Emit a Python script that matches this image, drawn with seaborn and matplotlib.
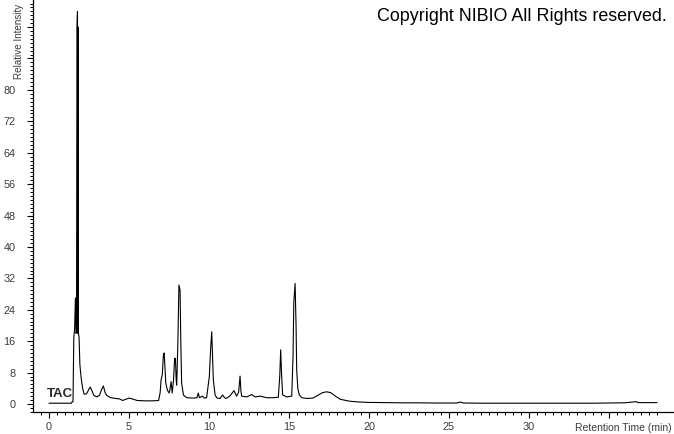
import matplotlib
matplotlib.use("Agg")
import matplotlib.pyplot as plt
from matplotlib.ticker import MultipleLocator, FixedLocator, FixedFormatter
import seaborn as sns
import pandas as pd
import numpy as np

# Retention time (min) and relative intensity
time = [0.0, 1.40, 1.45, 1.50, 1.55, 1.60, 1.65, 1.69, 1.72, 1.75, 1.78, 1.80,
        1.82, 1.84, 1.88, 1.93, 2.00, 2.10, 2.20, 2.35, 2.50, 2.58, 2.67, 2.80,
        2.98, 3.15, 3.30, 3.40, 3.50, 3.60, 3.80, 4.00, 4.40, 4.60, 4.80, 5.00,
        5.20, 5.50, 6.00, 6.50, 6.85, 6.95, 7.00, 7.08, 7.15, 7.20, 7.25, 7.30,
        7.40, 7.50, 7.55, 7.63, 7.70, 7.78, 7.85, 7.90, 7.95, 7.98, 8.05, 8.12,
        8.19, 8.24, 8.29, 8.40, 8.60, 9.00, 9.25, 9.33, 9.40, 9.50, 9.60, 9.70,
        9.85, 10.02, 10.10, 10.17, 10.22, 10.27, 10.38, 10.50, 10.69, 10.85,
        10.95, 11.06, 11.30, 11.45, 11.56, 11.65, 11.73, 11.85, 11.94, 11.99,
        12.04, 12.35, 12.67, 12.88, 13.19, 13.60, 14.00, 14.33, 14.42, 14.48,
        14.53, 14.60, 14.86, 15.17, 15.25, 15.30, 15.38, 15.44, 15.48, 15.55,
        15.64, 15.80, 16.10, 16.50, 16.80, 17.10, 17.35, 17.60, 17.90, 18.20,
        18.80, 19.40, 20.0, 21.0, 22.0, 23.0, 24.0, 25.5, 25.7, 25.9, 27.0,
        28.0, 30.0, 32.0, 34.0, 36.0, 36.7, 36.8, 38.0]
intensity = [0.2, 0.2, 0.6, 0.6, 17.0, 19.0, 27.0, 18.0, 18.5, 96.0, 100.0, 18.0,
             96.0, 18.0, 17.0, 10.0, 7.0, 4.0, 2.5, 2.6, 3.8, 4.3, 3.5, 2.2,
             1.8, 2.2, 3.8, 4.6, 3.0, 2.2, 1.7, 1.5, 1.3, 0.9, 1.2, 1.5,
             1.3, 0.9, 0.8, 0.8, 0.9, 3.0, 6.0, 7.5, 12.5, 13.0, 9.0, 5.3,
             3.5, 2.8, 3.5, 5.7, 2.8, 6.0, 11.7, 11.5, 6.0, 4.8, 15.0, 30.3,
             29.0, 15.0, 5.3, 2.3, 1.6, 1.5, 1.6, 2.8, 1.6, 1.8, 2.0, 1.5,
             1.6, 7.0, 14.0, 18.4, 12.0, 6.1, 2.3, 1.5, 1.4, 2.3,
             1.7, 1.4, 2.0, 2.8, 3.4, 2.6, 2.0, 3.0, 7.1, 3.5,
             2.0, 1.8, 2.4, 1.8, 2.0, 1.6, 1.6, 1.7, 7.0, 13.8,
             8.0, 2.3, 1.8, 2.0, 12.0, 26.0, 30.7, 20.0, 8.7, 4.0,
             2.3, 1.6, 1.4, 1.5, 2.2, 2.9, 3.1, 2.9, 2.0, 1.2,
             0.7, 0.5, 0.4, 0.35, 0.3, 0.3, 0.25, 0.25, 0.5, 0.25, 0.2,
             0.2, 0.2, 0.2, 0.2, 0.3, 0.6, 0.35, 0.35]

x_tick_values = [0, 5, 10, 15, 20, 25, 30, 35]
x_tick_labels = ["0", "5", "10", "15", "20", "25", "30", ""]
y_tick_values = [0, 8, 16, 24, 32, 40, 48, 56, 64, 72, 80, 88, 96]
y_tick_labels = ["0", "8", "16", "24", "32", "40", "48", "56", "64", "72", "80", "", ""]

sns.set_style("ticks")
plt.rcParams["font.family"] = ["Liberation Sans", "DejaVu Sans"]

df = pd.DataFrame({"time": time, "intensity": intensity})

fig = plt.figure(figsize=(6.74, 4.34), dpi=100)
W, H = 674, 434
ax = fig.add_axes([33 / W, (H - 412) / H, (W - 33) / W, 412 / H])

sns.lineplot(data=df, x="time", y="intensity", color="black", linewidth=0.8,
             estimator=None, ax=ax)

ax.set_xlim(-1.0, 39.06)
ax.set_ylim(-2.04, 102.9)

for s in ["top", "right"]:
    ax.spines[s].set_visible(False)
for s in ["left", "bottom"]:
    ax.spines[s].set_color("black")
    ax.spines[s].set_linewidth(0.9)

ax.xaxis.set_major_locator(FixedLocator(x_tick_values))
ax.xaxis.set_major_formatter(FixedFormatter(x_tick_labels))
ax.xaxis.set_minor_locator(FixedLocator(list(np.arange(-0.5, 38.01, 0.5))))
ax.yaxis.set_major_locator(FixedLocator(y_tick_values))
ax.yaxis.set_major_formatter(FixedFormatter(y_tick_labels))
ax.yaxis.set_minor_locator(MultipleLocator(1))

ax.tick_params(axis="both", which="major", direction="out", length=4.5, width=0.8,
               color="black", labelsize=7.8, labelcolor="#3a3a3a")
ax.tick_params(axis="both", which="minor", direction="out", length=2.5, width=0.7,
               color="black")
ax.tick_params(axis="x", which="major", pad=3)
ax.tick_params(axis="y", which="major", pad=8)

ax.set_xlabel("")
ax.set_ylabel("")

fig.text(672 / W, 1 - 428 / H, "Retention Time (min)", ha="right", va="center",
         fontsize=7.5, color="#3a3a3a")
fig.text(19 / W, 1 - 79 / H, "Relative Intensity", rotation=90, ha="center",
         va="bottom", fontsize=7.1, color="#3a3a3a")
fig.text(667 / W, 1 - 21 / H, "Copyright NIBIO All Rights reserved.", ha="right",
         va="baseline", fontsize=12.9, color="black")
ax.text(-0.15, 1.0, "TAC", fontsize=9.5, fontweight="bold", color="#2a2a2a",
        ha="left", va="bottom", transform=ax.transData)

fig.savefig("out.png", dpi=100)
